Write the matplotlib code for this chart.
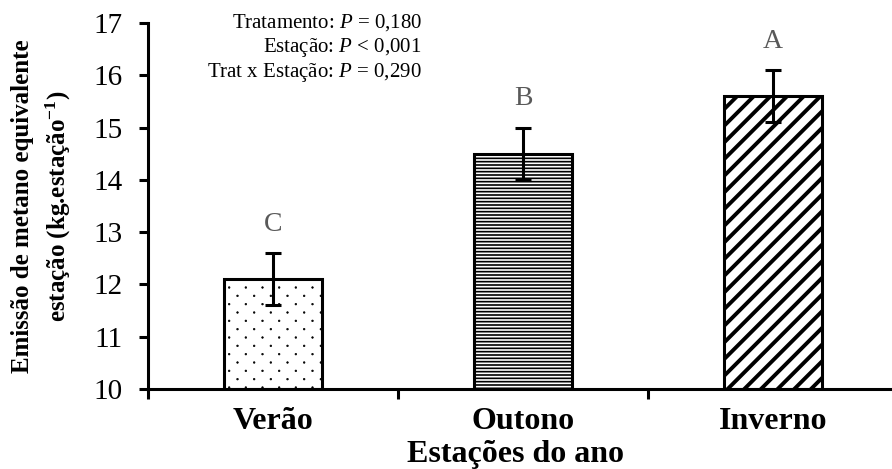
import matplotlib as mpl
mpl.use("Agg")
import matplotlib.pyplot as plt
import matplotlib.hatch as mhatch
from matplotlib.path import Path
import numpy as np

# data
estacoes = ["Verão", "Outono", "Inverno"]
emissao = [12.1, 14.5, 15.6]
erro = [0.5, 0.5, 0.5]
letras = ["C", "B", "A"]
yticks = [10, 11, 12, 13, 14, 15, 16, 17]
stats = ["Tratamento: $P$ = 0,180",
         "Estação: $P$ < 0,001",
         "Trat x Estação: $P$ = 0,290"]


## dotted hatch like the excel one: staggered rows, rows twice as dense as columns
class PontosHatch(mhatch.HatchPatternBase):
    def __init__(self, hatch, density):
        n = hatch.count(".") * density
        self.pos = []
        for i in range(2 * n):
            for j in range(n):
                self.pos.append(((j + 0.25 + 0.5 * (i % 2)) / n, (i + 0.5) / (2 * n)))
        circ = Path.unit_circle()
        self.sv, self.sc = circ.vertices, circ.codes
        self.num_vertices = len(self.pos) * len(self.sv)

    def set_vertices_and_codes(self, vertices, codes):
        np.concatenate([self.sv * 0.008 + p for p in self.pos], out=vertices)
        np.concatenate([self.sc] * len(self.pos), out=codes)


mhatch._hatch_types = [h for h in mhatch._hatch_types
                       if h is not mhatch.SmallFilledCircles] + [PontosHatch]

plt.rcParams["font.family"] = ["Liberation Serif", "DejaVu Serif"]
plt.rcParams["mathtext.fontset"] = "custom"
plt.rcParams["mathtext.rm"] = "Liberation Serif"
plt.rcParams["mathtext.it"] = "Liberation Serif:italic"
plt.rcParams["mathtext.bf"] = "Liberation Serif:bold"

fig = plt.figure(figsize=(8.92, 4.69), dpi=100)
ax = fig.add_axes([148 / 892, 80 / 469, 750 / 892, 366 / 469])

# hatch per bar and its line width
hachuras = [(".", 0.5), ("-----", 1.2), ("//", 2.8)]
x = np.arange(len(estacoes))
for xi, v, (h, hlw) in zip(x, emissao, hachuras):
    with plt.rc_context({"hatch.linewidth": hlw}):
        bars = ax.bar(xi, v - 10, bottom=10, width=0.39, facecolor="white",
                      edgecolor="black", linewidth=2.2, hatch=h, zorder=2)
    for b in bars:
        if hasattr(b, "set_hatch_linewidth"):
            b.set_hatch_linewidth(hlw)
ax.errorbar(x, emissao, yerr=erro, fmt="none", ecolor="black",
            elinewidth=2.2, capsize=6, capthick=2.2, zorder=3)

# letters above the error bars
for xi, v, e, l in zip(x, emissao, erro, letras):
    ax.text(xi, v + e + 0.55, l, ha="center", va="center",
            fontsize=20, color="#595959")

ax.set_xlim(-0.5, 2.5)
ax.set_ylim(10, 17)
ax.set_yticks(yticks)
ax.tick_params(axis="y", labelsize=21, length=6.5, width=2.2, direction="out", pad=12)

ax.set_xticks([-0.5, 0.5, 1.5, 2.5])
ax.set_xticklabels([])
ax.set_xticks(x, minor=True)
ax.set_xticklabels(estacoes, minor=True, fontsize=23, fontweight="bold")
ax.tick_params(axis="x", which="major", length=7, width=2.2, direction="out")
ax.tick_params(axis="x", which="minor", length=0, pad=13)

for s in ["top", "right"]:
    ax.spines[s].set_visible(False)
for s in ["left", "bottom"]:
    ax.spines[s].set_linewidth(2.2)

ax.set_xlabel("Estações do ano", fontsize=23, fontweight="bold", va="center")
ax.xaxis.set_label_coords(0.49, -0.178)
ax.set_ylabel("Emissão de metano equivalente\nestação (kg.estação$^{\\mathbf{-1}}$)",
              fontsize=18, fontweight="bold", linespacing=1.43, va="center")
ax.yaxis.set_label_coords(-0.1413, 0.5)

for i, s in enumerate(stats):
    fig.text(422 / 892, 1 - (23 + 24.5 * i) / 469, s, ha="right", va="center",
             fontsize=15)

fig.savefig("out.png", dpi=100)
